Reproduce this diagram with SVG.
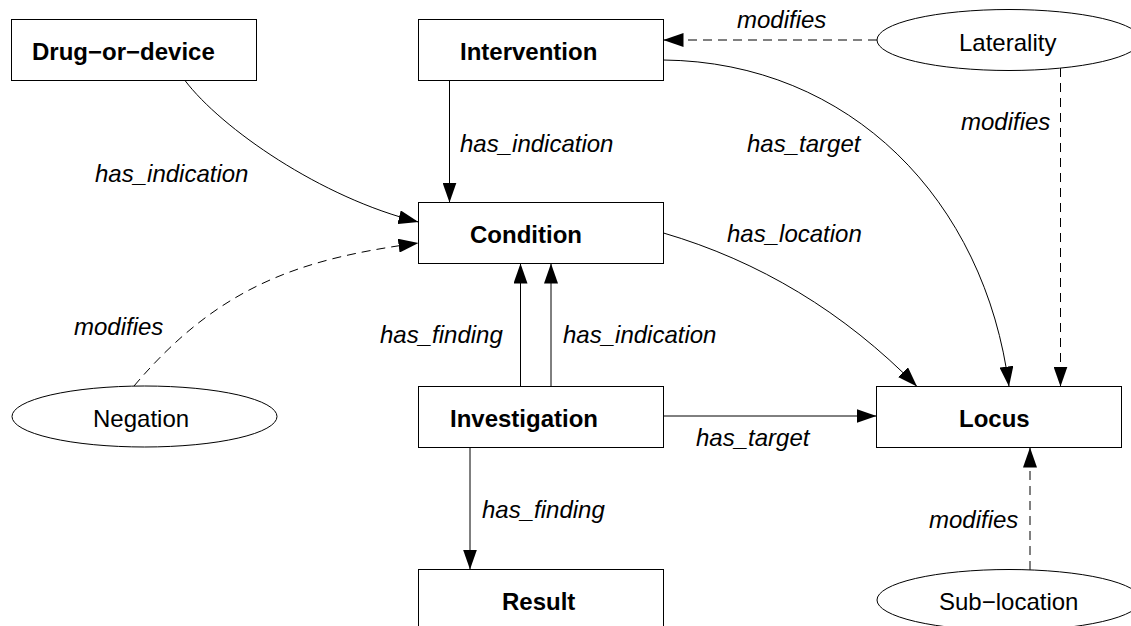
<svg xmlns="http://www.w3.org/2000/svg" width="1131" height="626" viewBox="0 0 1131 626">
<style>
.box{fill:#fff;stroke:#000;stroke-width:1}
.ell{fill:#fff;stroke:#000;stroke-width:1}
.nt{font-family:"Liberation Sans",Arial,sans-serif;font-size:24px;font-weight:bold;fill:#000}
.et{font-family:"Liberation Sans",Arial,sans-serif;font-size:24px;fill:#000}
.lbl{font-family:"Liberation Sans",Arial,sans-serif;font-size:24px;font-style:italic;fill:#000}
.e{fill:none;stroke:#000;stroke-width:1;marker-end:url(#ah)}
.d{stroke-dasharray:9,6}
</style>
<defs>
<marker id="ah" markerUnits="userSpaceOnUse" markerWidth="20" markerHeight="14" refX="20" refY="7" orient="auto">
<path d="M0,0 L20,7 L0,14 z" fill="#000"/>
</marker>
</defs>
<rect width="1131" height="626" fill="#fff"/>
<g id="connectors">
<path class="e" d="M185,80.5 C221,128 321,198 418.5,222"/>
<path class="e d" d="M134,386 C218,287 298,259 418.5,243"/>
<path class="e" d="M449.5,80.5 L449.5,202.5"/>
<path class="e" d="M663.5,60 C850,62 985,200 1009,386.5"/>
<path class="e" d="M663.5,233 C759,261 844,312 917,386.5"/>
<path class="e d" d="M877,40 L663.5,40"/>
<path class="e d" d="M1060.5,68 L1060.5,386.5"/>
<path class="e" d="M520.5,386.5 L520.5,263.5"/>
<path class="e" d="M551,386.5 L551,263.5"/>
<path class="e" d="M663.5,416 L876.5,416"/>
<path class="e" d="M470,447.5 L470,569.5"/>
<path class="e d" d="M1030,570 L1030,447.5"/>
<text class="lbl" x="95" y="182">has_indication</text>
<text class="lbl" x="74" y="335">modifies</text>
<text class="lbl" x="460" y="152">has_indication</text>
<text class="lbl" x="737" y="28">modifies</text>
<text class="lbl" x="747" y="152">has_target</text>
<text class="lbl" x="727" y="242">has_location</text>
<text class="lbl" x="961" y="130">modifies</text>
<text class="lbl" x="380" y="343">has_finding</text>
<text class="lbl" x="563" y="343">has_indication</text>
<text class="lbl" x="696" y="446">has_target</text>
<text class="lbl" x="482" y="518">has_finding</text>
<text class="lbl" x="929" y="528">modifies</text>
</g>
<g id="drug"><rect class="box" x="11.5" y="19.5" width="245" height="61"/><text class="nt" x="32" y="60">Drug−or−device</text></g>
<g id="intervention"><rect class="box" x="418.5" y="19.5" width="245" height="61"/><text class="nt" x="460" y="60">Intervention</text></g>
<g id="laterality"><ellipse class="ell" cx="1009" cy="40" rx="132" ry="30.5"/><text class="et" x="959" y="51">Laterality</text></g>
<g id="condition"><rect class="box" x="418.5" y="202.5" width="245" height="61"/><text class="nt" x="470" y="243">Condition</text></g>
<g id="negation"><ellipse class="ell" cx="144.5" cy="416.5" rx="132.5" ry="30.5"/><text class="et" x="93" y="427">Negation</text></g>
<g id="investigation"><rect class="box" x="418.5" y="386.5" width="245" height="61"/><text class="nt" x="450" y="427">Investigation</text></g>
<g id="locus"><rect class="box" x="876.5" y="386.5" width="245" height="61"/><text class="nt" x="959" y="427">Locus</text></g>
<g id="result"><rect class="box" x="418.5" y="569.5" width="245" height="61"/><text class="nt" x="502" y="610">Result</text></g>
<g id="sublocation"><ellipse class="ell" cx="1009" cy="600" rx="132" ry="30.5"/><text class="et" x="939" y="610">Sub−location</text></g>
</svg>
